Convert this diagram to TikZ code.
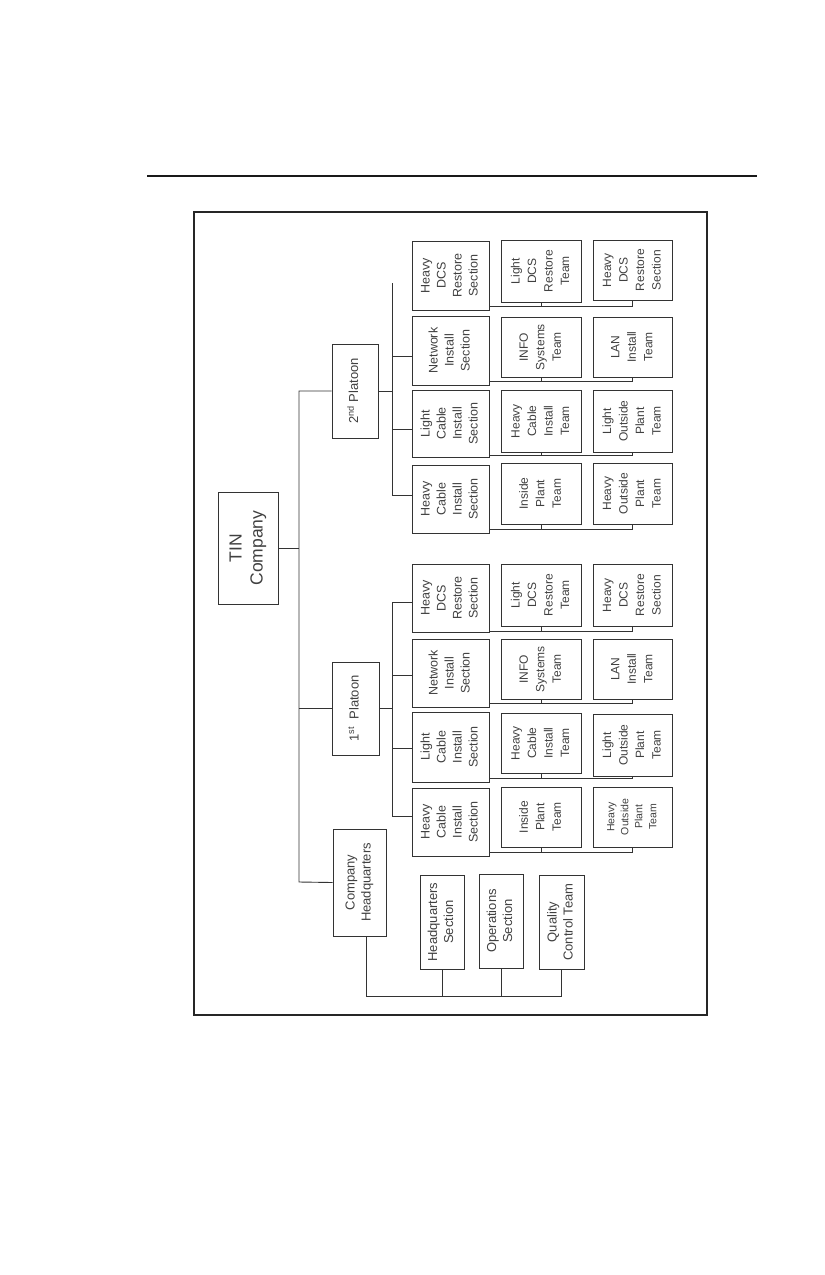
\documentclass[tikz,border=0pt]{standalone}
\usepackage{fontspec}
\setmainfont{Liberation Sans}
\usepackage{graphicx}
\newcommand{\rt}[3]{\rotatebox{90}{\fontsize{#1}{#2}\selectfont\begin{tabular}{@{}c@{}}#3\end{tabular}}}
% box: name, x1, y1, x2, y2, content
\newcommand{\bx}[6]{\node[box, minimum width={#4-#2}, minimum height={#5-#3}] (#1) at ({(#2+#4)/2},{(#3+#5)/2}) {#6};}
\newcommand{\teamrow}[4]{%
  \draw[conn] (#1.east |- 0,#4) -| (#3.south);
  \draw[conn] (#2.south) -- (#2.south |- 0,#4);}
\begin{document}
\begin{tikzpicture}[x=1pt,y=-1pt,
  box/.style={draw=black!80, line width=0.9pt, inner sep=0pt, rectangle, text=black!75, align=center},
  conn/.style={draw=black!80, line width=0.9pt}]
\useasboundingbox (0,0) rectangle (825,1275);
% page rule and frame
\draw[line width=2pt, black!90] (147,176) -- (757,176);
\draw[line width=1.5pt, black!85] (194,212) rectangle (707,1015);

% top levels
\bx{tin}{218}{492}{278}{604}{\rt{17.5}{21}{TIN\\Company}}
\bx{p2}{332}{344}{378}{438}{\rt{13}{15}{2\textsuperscript{nd} Platoon}}
\bx{p1}{332}{662}{379}{755}{\rt{13}{15}{1\textsuperscript{st}\ \ Platoon}}
\bx{hq}{333}{829}{386}{936}{\rt{13}{16}{Company\\Headquarters}}

% trunk
\coordinate (trT) at (299,391);
\coordinate (trB) at (299,882);
\draw[conn] (p2.west) -- (p2.west -| trT) -- (trB) -- (hq.west);
\draw[conn] (tin.east) -- (tin.east -| trT);
\draw[conn] (p1.west) -- (p1.west -| trT);

% 2nd platoon
\bx{hdrA}{412}{241}{489}{310}{\rt{12.5}{16}{Heavy\\DCS\\Restore\\Section}}
\bx{hdrAb}{501}{240}{581}{302}{\rt{12}{16.5}{Light\\DCS\\Restore\\Team}}
\bx{hdrAc}{593}{240}{672}{300}{\rt{12}{16.5}{Heavy\\DCS\\Restore\\Section}}
\bx{nwA}{412}{316}{489}{385}{\rt{12.5}{16}{Network\\Install\\Section}}
\bx{nwAb}{501}{317}{581}{377}{\rt{12}{16.5}{INFO\\Systems\\Team}}
\bx{nwAc}{593}{317}{672}{377}{\rt{12}{16.5}{LAN\\Install\\Team}}
\bx{lcA}{412}{390}{489}{457}{\rt{12.5}{16}{Light\\Cable\\Install\\Section}}
\bx{lcAb}{501}{390}{581}{452}{\rt{12}{16.5}{Heavy\\Cable\\Install\\Team}}
\bx{lcAc}{593}{390}{672}{452}{\rt{12}{16.5}{Light\\Outside\\Plant\\Team}}
\bx{hcA}{412}{465}{489}{533}{\rt{12.5}{16}{Heavy\\Cable\\Install\\Section}}
\bx{hcAb}{501}{463}{581}{524}{\rt{12}{16.5}{Inside\\Plant\\Team}}
\bx{hcAc}{593}{463}{672}{524}{\rt{12}{16.5}{Heavy\\Outside\\Plant\\Team}}

\coordinate (busA) at (392,283);
\draw[conn] (busA) -- (busA |- 0,495);
\draw[conn] (p2.east) -- (p2.east -| busA);
\draw[conn] (busA |- 0,356) -- (nwA.west |- 0,356);
\draw[conn] (busA |- 0,429) -- (lcA.west |- 0,429);
\draw[conn] (busA |- 0,495) -- (hcA.west |- 0,495);
\teamrow{hdrA}{hdrAb}{hdrAc}{306}
\teamrow{nwA}{nwAb}{nwAc}{381}
\teamrow{lcA}{lcAb}{lcAc}{455}
\teamrow{hcA}{hcAb}{hcAc}{529}

% 1st platoon
\bx{hdrB}{412}{564}{489}{632}{\rt{12.5}{16}{Heavy\\DCS\\Restore\\Section}}
\bx{hdrBb}{501}{564}{581}{626}{\rt{12}{16.5}{Light\\DCS\\Restore\\Team}}
\bx{hdrBc}{593}{564}{672}{626}{\rt{12}{16.5}{Heavy\\DCS\\Restore\\Section}}
\bx{nwB}{412}{639}{489}{707}{\rt{12.5}{16}{Network\\Install\\Section}}
\bx{nwBb}{501}{639}{581}{699}{\rt{12}{16.5}{INFO\\Systems\\Team}}
\bx{nwBc}{593}{639}{672}{699}{\rt{12}{16.5}{LAN\\Install\\Team}}
\bx{lcB}{412}{712}{489}{782}{\rt{12.5}{16}{Light\\Cable\\Install\\Section}}
\bx{lcBb}{501}{713}{581}{773}{\rt{12}{16.5}{Heavy\\Cable\\Install\\Team}}
\bx{lcBc}{593}{714}{672}{776}{\rt{12}{16.5}{Light\\Outside\\Plant\\Team}}
\bx{hcB}{412}{788}{489}{856}{\rt{12.5}{16}{Heavy\\Cable\\Install\\Section}}
\bx{hcBb}{501}{787}{581}{847}{\rt{12}{16.5}{Inside\\Plant\\Team}}
\bx{hcBc}{593}{787}{672}{847}{\rt{10.5}{14}{Heavy\\Outside\\Plant\\Team}}

\coordinate (busB) at (392,602);
\draw[conn] (busB) -- (busB |- 0,816);
\draw[conn] (p1.east) -- (p1.east -| busB);
\draw[conn] (busB) -- (hdrB.west |- busB);
\draw[conn] (busB |- 0,675) -- (nwB.west |- 0,675);
\draw[conn] (busB |- 0,748) -- (lcB.west |- 0,748);
\draw[conn] (busB |- 0,816) -- (hcB.west |- 0,816);
\teamrow{hdrB}{hdrBb}{hdrBc}{631}
\teamrow{nwB}{nwBb}{nwBc}{703}
\teamrow{lcB}{lcBb}{lcBc}{778}
\teamrow{hcB}{hcBb}{hcBc}{852}

% headquarters sections
\bx{hqs}{420}{875}{464}{969}{\rt{13}{16}{Headquarters\\Section}}
\bx{ops}{479}{874}{523}{968}{\rt{13}{16}{Operations\\Section}}
\bx{qc}{539}{875}{584}{969}{\rt{13}{16}{Quality\\Control Team}}
\coordinate (hqbus) at (366,996);
\draw[conn] (hq.south -| hqbus) -- (hqbus) -- (qc.south |- hqbus) -- (qc.south);
\draw[conn] (hqs.south) -- (hqs.south |- hqbus);
\draw[conn] (ops.south) -- (ops.south |- hqbus);
\end{tikzpicture}
\end{document}
